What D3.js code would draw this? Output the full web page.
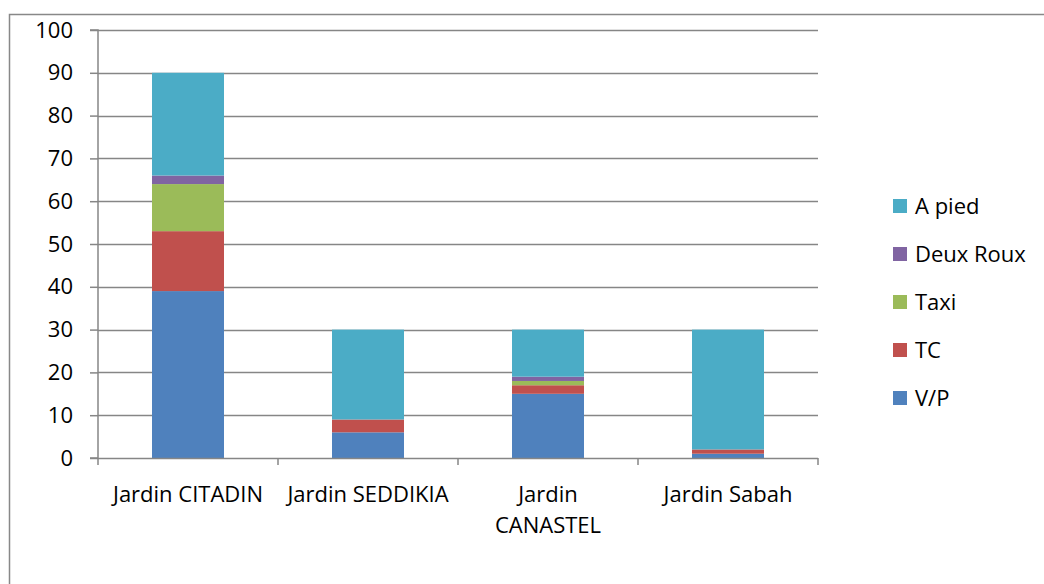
<!DOCTYPE html>
<html>
<head>
<meta charset="utf-8">
<script src="https://cdn.jsdelivr.net/npm/d3@7"></script>
<style>
  body { margin: 0; background: #fff; }
  text { font-family: "Open Sans", sans-serif; fill: #000; }
</style>
</head>
<body>
<div id="chart"></div>
<script>
var categories = [['Jardin CITADIN'], ['Jardin SEDDIKIA'], ['Jardin', 'CANASTEL'], ['Jardin Sabah']];
var seriesNames = ['V/P', 'TC', 'Taxi', 'Deux Roux', 'A pied'];
var vp = [39, 6, 15, 1];
var tc = [14, 3, 2, 1];
var taxi = [11, 0, 1, 0];
var deuxRoux = [2, 0, 1, 0];
var aPied = [24, 21, 11, 28];
var yTicks = [0, 10, 20, 30, 40, 50, 60, 70, 80, 90, 100];
var colors = ['#4F81BD', '#C0504D', '#9BBB59', '#8064A2', '#4BACC6'];

var width = 1044, height = 584;
var plot = { left: 98, right: 818, top: 30, bottom: 458 };
var fontSize = '22px';

var rows = categories.map((c, i) => ({
  key: c.join(' '),
  lines: c,
  'V/P': vp[i], 'TC': tc[i], 'Taxi': taxi[i], 'Deux Roux': deuxRoux[i], 'A pied': aPied[i]
}));

var svg = d3.select('#chart')
  .append('svg')
    .attr('width', width)
    .attr('height', height);

// outer chart frame (top and left only visible)
svg.append('path')
  .attr('d', 'M9.5,' + height + 'V14.5H' + width)
  .attr('fill', 'none')
  .attr('stroke', '#888')
  .attr('stroke-width', 1.5);

var x = d3.scaleBand()
  .domain(rows.map(d => d.key))
  .range([plot.left, plot.right])
  .paddingInner(0.6)
  .paddingOuter(0.3);

var y = d3.scaleLinear()
  .domain([0, 100])
  .range([plot.bottom, plot.top]);

var z = d3.scaleOrdinal().domain(seriesNames).range(colors);

// gridlines
svg.append('g')
  .selectAll('line')
  .data(yTicks.filter(t => t > 0))
  .enter().append('line')
    .attr('x1', plot.left).attr('x2', plot.right)
    .attr('y1', d => Math.round(y(d)) + 0.5)
    .attr('y2', d => Math.round(y(d)) + 0.5)
    .attr('stroke', '#868686')
    .attr('stroke-width', 1.5);

// y axis
var yAxis = svg.append('g')
  .attr('transform', 'translate(' + plot.left + ',0)')
  .call(d3.axisLeft(y).tickValues(yTicks).tickSize(8).tickPadding(17));
yAxis.selectAll('path, line').attr('stroke', '#868686').attr('stroke-width', 1.5);
yAxis.select('.domain').attr('d', 'M-8,' + plot.top + 'H0V' + plot.bottom + 'H-8');
yAxis.selectAll('text').style('font-size', fontSize).style('font-family', '"Open Sans", sans-serif').attr('fill', '#000');

// stacked bars
var stack = d3.stack().keys(seriesNames);
svg.append('g')
  .selectAll('g')
  .data(stack(rows))
  .enter().append('g')
    .attr('fill', d => z(d.key))
  .selectAll('rect')
  .data(d => d)
  .enter().append('rect')
    .attr('x', d => x(d.data.key))
    .attr('width', x.bandwidth())
    .attr('y', d => y(d[1]))
    .attr('height', d => y(d[0]) - y(d[1]));

// x axis
var xAxis = svg.append('g');
xAxis.append('line')
  .attr('x1', plot.left).attr('x2', plot.right)
  .attr('y1', plot.bottom + 0.5).attr('y2', plot.bottom + 0.5)
  .attr('stroke', '#868686').attr('stroke-width', 1.5);
var edgeTicks = d3.range(rows.length + 1).map(i => plot.left + i * (plot.right - plot.left) / rows.length);
xAxis.selectAll('.tk')
  .data(edgeTicks)
  .enter().append('line')
    .attr('x1', d => d).attr('x2', d => d)
    .attr('y1', plot.bottom).attr('y2', plot.bottom + 7)
    .attr('stroke', '#868686').attr('stroke-width', 1.5);

var labels = xAxis.selectAll('text')
  .data(rows)
  .enter().append('text')
    .attr('text-anchor', 'middle')
    .style('font-size', fontSize)
    .attr('transform', d => 'translate(' + (x(d.key) + x.bandwidth() / 2) + ',502)');
labels.selectAll('tspan')
  .data(d => d.lines)
  .enter().append('tspan')
    .attr('x', 0)
    .attr('dy', (d, i) => i === 0 ? 0 : 31)
    .text(d => d);

// legend
var legendItems = seriesNames.slice().reverse();
var legend = svg.append('g')
  .selectAll('g')
  .data(legendItems)
  .enter().append('g')
    .attr('transform', (d, i) => 'translate(893,' + (206 + i * 48) + ')');
legend.append('rect')
  .attr('x', 0).attr('y', -7)
  .attr('width', 14).attr('height', 14)
  .attr('fill', d => z(d));
legend.append('text')
  .attr('x', 22).attr('y', 8)
  .style('font-size', fontSize)
  .text(d => d);
</script>
</body>
</html>
